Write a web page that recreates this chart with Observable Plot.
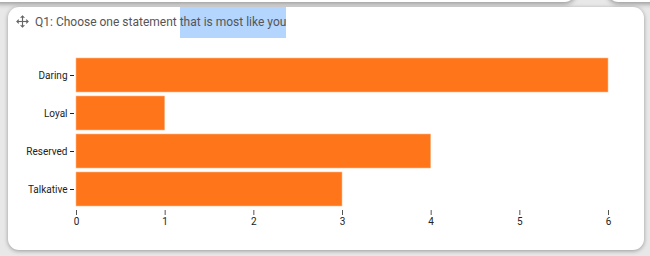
<!DOCTYPE html>
<html><head><meta charset="utf-8">
<script src="https://cdn.jsdelivr.net/npm/d3@7"></script>
<script src="https://cdn.jsdelivr.net/npm/@observablehq/plot@0.6"></script>
<style>
html,body{margin:0;padding:0;width:650px;height:256px;overflow:hidden;background:#e8e8e8;font-family:Roboto,sans-serif;}
#topcard1{position:absolute;left:-10px;top:-20px;width:585px;height:22px;background:#fff;border-radius:10px;box-shadow:0 2px 5px rgba(0,0,0,0.35);}
#topcard2{position:absolute;left:608px;top:-20px;width:80px;height:22px;background:#fff;border-radius:10px;box-shadow:0 2px 5px rgba(0,0,0,0.35);}
#card{position:absolute;left:8px;top:7px;width:636px;height:243px;background:#fff;border-radius:11px;box-shadow:0 1px 4px rgba(0,0,0,0.35);}
#title{position:absolute;left:35px;top:13px;font-size:12px;color:#555;white-space:nowrap;line-height:18px;}
#hl{background:#b4d5fe;padding:8px 0 9px 0;}
#icon{position:absolute;left:16px;top:15px;}
#chart{position:absolute;left:0;top:0;}
</style></head>
<body>
<div id="topcard1"></div><div id="topcard2"></div>
<div id="card"></div>
<svg id="icon" width="13" height="13" viewBox="0 0 14 14"><g stroke="#666" stroke-width="1.2" fill="none"><line x1="7" y1="1" x2="7" y2="13"/><line x1="1" y1="7" x2="13" y2="7"/><polyline points="5,3 7,1 9,3"/><polyline points="5,11 7,13 9,11"/><polyline points="3,5 1,7 3,9"/><polyline points="11,5 13,7 11,9"/></g></svg>
<div id="title">Q1: Choose one statement <span id="hl">that is most like you</span></div>
<div id="chart"></div>
<script>
const categories = ["Daring", "Loyal", "Reserved", "Talkative"];
const counts = [6, 1, 4, 3];
const xTicks = [0, 1, 2, 3, 4, 5, 6];

const data = categories.map((c, i) => ({category: c, count: counts[i]}));

const chart = Plot.plot({
  width: 650,
  height: 235,
  marginLeft: 76,
  marginRight: 42,
  marginTop: 57,
  marginBottom: 25,
  style: {fontFamily: "Roboto, sans-serif", fontSize: "10px", color: "#222", background: "transparent"},
  x: {domain: [0, 6], ticks: xTicks, label: null},
  y: {domain: categories, range: [57, 207], paddingInner: 0.1, paddingOuter: 0, label: null},
  marks: [
    Plot.barX(data, {x: "count", y: "category", fill: "#ff7519", stroke: "#ffb98a", strokeWidth: 0.6}),
    Plot.axisX({ticks: xTicks, tickFormat: d3.format("d"), tickSize: 5, tickPadding: 2, label: null, stroke: "#555"}),
    Plot.axisY({tickSize: 4, tickPadding: 3, dx: -2, label: null})
  ]
});
document.getElementById("chart").appendChild(chart);
</script>
</body></html>
